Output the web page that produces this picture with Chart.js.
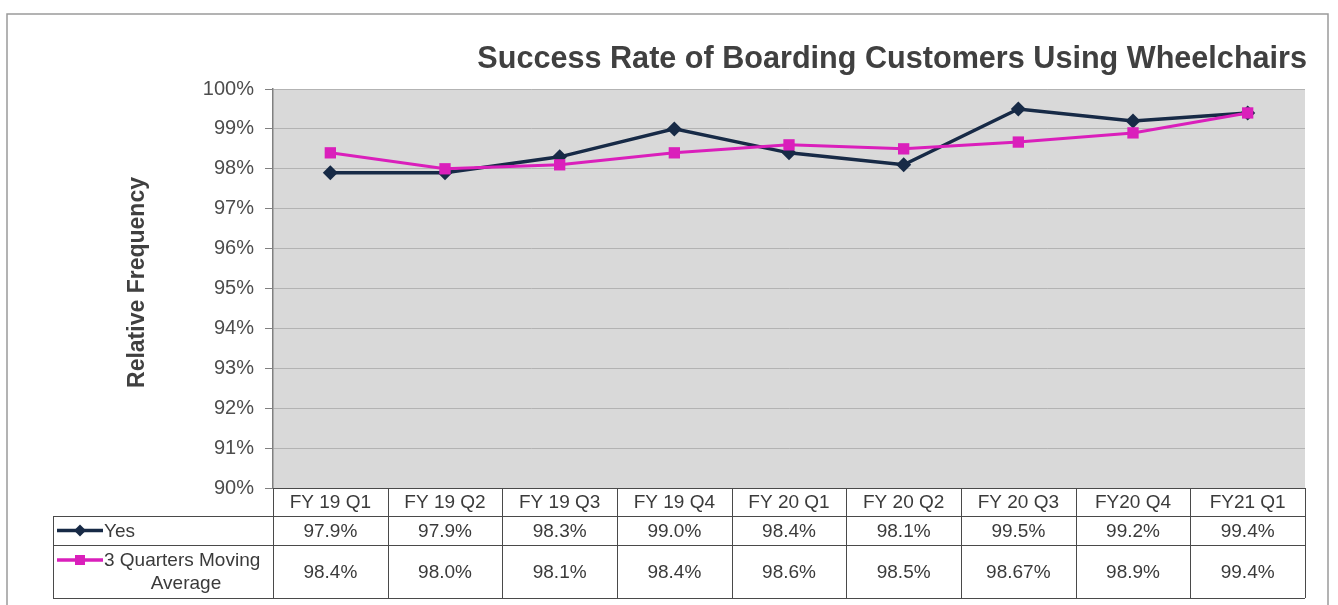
<!DOCTYPE html>
<html>
<head>
<meta charset="utf-8">
<title>Success Rate of Boarding Customers Using Wheelchairs</title>
<script src="https://cdn.jsdelivr.net/npm/chart.js@4.4.1/dist/chart.umd.min.js"></script>
<style>
    html, body { margin: 0; padding: 0; background: #ffffff; }
    #wrap { width: 1338px; height: 605px; position: relative; }
</style>
</head>
<body>
<div id="wrap"><canvas id="wheelchairChart" width="1338" height="605"></canvas></div>
<script>
// chart data
const categories = ['FY 19 Q1', 'FY 19 Q2', 'FY 19 Q3', 'FY 19 Q4', 'FY 20 Q1', 'FY 20 Q2', 'FY 20 Q3', 'FY20 Q4', 'FY21 Q1'];
const yesValues = [97.9, 97.9, 98.3, 99.0, 98.4, 98.1, 99.5, 99.2, 99.4];
const avgValues = [98.4, 98.0, 98.1, 98.4, 98.6, 98.5, 98.67, 98.9, 99.4];
const yMin = 90;
const yMax = 100;
const yStep = 1;

const seriesNames = ['Yes', '3 Quarters Moving Average'];
const navy = '#172a46';
const magenta = '#da1fbb';
const fontFamily = '"Liberation Sans", Arial, Helvetica, sans-serif';

function fmtPct(v) {
    // one decimal unless the value has more
    const oneDec = Math.abs(v * 10 - Math.round(v * 10)) < 1e-6;
    return v.toFixed(oneDec ? 1 : 2) + '%';
}

function drawMarker(ctx, style, x, y, r, color) {
    ctx.fillStyle = color;
    ctx.beginPath();
    if (style === 'diamond') {
        ctx.moveTo(x, y - r);
        ctx.lineTo(x + r, y);
        ctx.lineTo(x, y + r);
        ctx.lineTo(x - r, y);
    } else {
        ctx.rect(x - r, y - r, r * 2, r * 2);
    }
    ctx.closePath();
    ctx.fill();
}

// frame, title, plot background
const backgroundPlugin = {
    id: 'background',
    beforeDraw(chart) {
        const { ctx, chartArea: a } = chart;
        ctx.save();
        ctx.fillStyle = '#ffffff';
        ctx.fillRect(0, 0, chart.width, chart.height);
        ctx.strokeStyle = '#9a9a9a';
        ctx.lineWidth = 1.5;
        ctx.strokeRect(7, 14, 1321, 640);
        ctx.fillStyle = '#d9d9d9';
        ctx.fillRect(a.left, a.top, a.right - a.left, a.bottom - a.top);
        ctx.restore();
    },
    afterDraw(chart) {
        const { ctx, chartArea: a } = chart;
        ctx.save();
        ctx.fillStyle = '#404040';
        ctx.font = 'bold 30.6px ' + fontFamily;
        ctx.textAlign = 'right';
        ctx.textBaseline = 'alphabetic';
        ctx.fillText('Success Rate of Boarding Customers Using Wheelchairs', 1307, 68);

        ctx.translate(138, (a.top + a.bottom) / 2 - 6);
        ctx.rotate(-Math.PI / 2);
        ctx.font = 'bold 23px ' + fontFamily;
        ctx.textAlign = 'center';
        ctx.textBaseline = 'middle';
        ctx.fillText('Relative Frequency', 0, 0);
        ctx.restore();
    }
};

// data table under the plot
const tablePlugin = {
    id: 'dataTable',
    afterDraw(chart) {
        const { ctx, chartArea: a, scales } = chart;
        const x = scales.x;
        const half = (x.getPixelForValue(1) - x.getPixelForValue(0)) / 2;
        const headTop = a.bottom;
        const row1 = headTop + 28;
        const row2 = row1 + 29;
        const row3 = row2 + 53;
        const legLeft = 53;

        ctx.save();
        ctx.strokeStyle = '#4a4a4a';
        ctx.lineWidth = 1;

        // horizontal lines
        ctx.beginPath();
        ctx.moveTo(a.left, headTop + 0.5); ctx.lineTo(a.right, headTop + 0.5);
        [row1, row2, row3].forEach(yy => {
            ctx.moveTo(legLeft, yy + 0.5); ctx.lineTo(a.right, yy + 0.5);
        });
        // vertical lines
        ctx.moveTo(legLeft + 0.5, row1); ctx.lineTo(legLeft + 0.5, row3);
        for (let i = 0; i <= categories.length; i++) {
            const xx = Math.round(x.getPixelForValue(i) - half) + 0.5;
            ctx.moveTo(xx, headTop); ctx.lineTo(xx, row3);
        }
        ctx.stroke();

        ctx.font = '19px ' + fontFamily;
        ctx.fillStyle = '#3a3a3a';
        ctx.textAlign = 'center';
        ctx.textBaseline = 'middle';
        categories.forEach((c, i) => {
            const cx = x.getPixelForValue(i);
            ctx.fillText(c, cx, (headTop + row1) / 2 + 1);
            ctx.fillText(fmtPct(yesValues[i]), cx, (row1 + row2) / 2 + 1);
            ctx.fillText(fmtPct(avgValues[i]), cx, (row2 + row3) / 2 + 1);
        });

        // legend keys
        const keyL = 57, keyR = 103, keyC = 80;
        const y1 = (row1 + row2) / 2;
        const y2 = row2 + 15;
        ctx.lineWidth = 3.5;
        ctx.strokeStyle = navy;
        ctx.beginPath(); ctx.moveTo(keyL, y1); ctx.lineTo(keyR, y1); ctx.stroke();
        drawMarker(ctx, 'diamond', keyC, y1, 6, navy);
        ctx.strokeStyle = magenta;
        ctx.beginPath(); ctx.moveTo(keyL, y2); ctx.lineTo(keyR, y2); ctx.stroke();
        drawMarker(ctx, 'square', keyC, y2, 5, magenta);

        ctx.fillStyle = '#3a3a3a';
        ctx.textAlign = 'left';
        ctx.fillText(seriesNames[0], 104, y1 + 1);
        ctx.fillText('3 Quarters Moving', 104, y2 + 1);
        ctx.textAlign = 'center';
        ctx.fillText('Average', 186, y2 + 24);
        ctx.restore();
    }
};

document.addEventListener('DOMContentLoaded', () => {
    const ctx = document.getElementById('wheelchairChart');

    new Chart(ctx, {
        type: 'line',
        data: {
            labels: categories,
            datasets: [
                {
                    label: seriesNames[1],
                    data: avgValues,
                    borderColor: magenta,
                    backgroundColor: magenta,
                    borderWidth: 3,
                    pointStyle: 'rect',
                    pointRadius: 8,
                    pointBorderWidth: 0,
                    tension: 0
                },
                {
                    label: seriesNames[0],
                    data: yesValues,
                    borderColor: navy,
                    backgroundColor: navy,
                    borderWidth: 3.5,
                    pointStyle: 'rectRot',
                    pointRadius: 7.5,
                    pointBorderWidth: 0,
                    tension: 0
                }
            ]
        },
        options: {
            responsive: false,
            animation: false,
            devicePixelRatio: 1,
            layout: { padding: { top: 89, right: 33, bottom: 117, left: 0 } },
            plugins: {
                legend: { display: false },
                title: { display: false },
                tooltip: { enabled: false }
            },
            scales: {
                x: {
                    display: false,
                    offset: true
                },
                y: {
                    min: yMin,
                    max: yMax,
                    afterFit(scale) { scale.width = 273; },
                    ticks: {
                        stepSize: yStep,
                        padding: 11,
                        color: '#4d4d4d',
                        font: { family: fontFamily, size: 20 },
                        callback: v => v + '%'
                    },
                    grid: {
                        color: '#b3b3b3',
                        tickColor: '#808080',
                        tickLength: 8,
                        lineWidth: 1
                    },
                    border: { display: true, color: '#808080', width: 1.5 }
                }
            }
        },
        plugins: [backgroundPlugin, tablePlugin]
    });
});
</script>
</body>
</html>
